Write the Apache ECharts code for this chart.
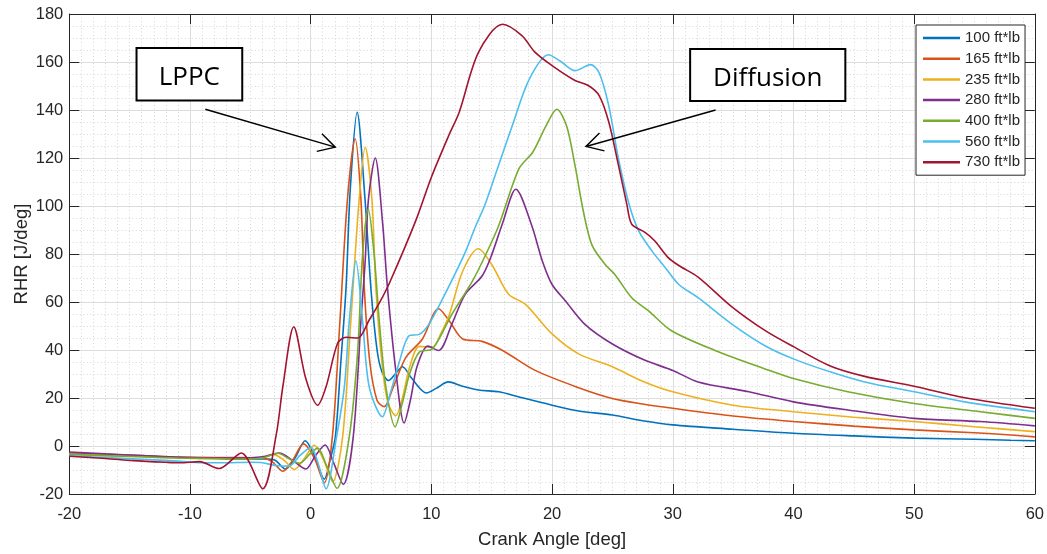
<!DOCTYPE html>
<html>
<head>
<meta charset="utf-8">
<script src="https://cdn.jsdelivr.net/npm/echarts@6/dist/echarts.min.js"></script>
<style>
  html, body { margin: 0; padding: 0; background: #ffffff; }
  #chart { width: 1047px; height: 554px; }
</style>
</head>
<body>
<div id="chart"></div>
<script>
// Rate of heat release (RHR) against crank angle for seven engine loads.

// Axis ticks
const angleTicks = [-20, -10, 0, 10, 20, 30, 40, 50, 60];
const rhrTicks = [-20, 0, 20, 40, 60, 80, 100, 120, 140, 160, 180];

// Load cases and their line colours
const loadLabels = ['100 ft*lb', '165 ft*lb', '235 ft*lb', '280 ft*lb', '400 ft*lb', '560 ft*lb', '730 ft*lb'];
const lineColors = ['#0072BD', '#D95319', '#EDB120', '#7E2F8E', '#77AC30', '#4DBEEE', '#A2142F'];

// [crank angle (deg), RHR (J/deg)]
const rhr100 = [
  [-20, -3], [-17, -3.6], [-14, -4.2], [-11, -4.8], [-8, -5], [-6, -5.2], [-4, -5.4], [-3, -5.8],
  [-2.1, -9.6], [-1.3, -5], [-0.45, 2.2], [0.3, -4], [1.13, -13.8], [1.6, -6], [2.05, 4], [2.5, 35],
  [2.93, 66], [3.28, 107], [3.85, 139], [4.5, 103], [5.0, 65], [5.5, 40], [5.9, 31], [6.45, 27.3],
  [7.0, 30], [7.6, 33], [8.4, 28], [9.6, 22.1], [10.4, 24], [11.4, 26.7], [12.5, 25], [13.9, 23.3],
  [15.6, 22.6], [17.2, 20.5], [20, 17], [22.2, 14.6], [25, 12.9], [27.5, 10.5], [30, 8.8], [35, 7],
  [40, 5.3], [45, 4.2], [50, 3.3], [55, 2.8], [58, 2.4], [60, 2.2]
];
const rhr165 = [
  [-20, -3], [-17, -3.5], [-14, -4], [-11, -4.6], [-8, -4.8], [-6, -4.8], [-4, -5], [-3.2, -6.5],
  [-2.3, -10.5], [-1.5, -6], [-0.6, 0.9], [0.3, -5], [1.13, -15.3], [1.8, 4], [2.4, 50], [3.05, 103],
  [3.69, 128], [4.16, 103], [4.44, 66], [4.9, 35], [5.5, 19], [6.1, 16.4], [6.8, 24], [7.9, 37],
  [9.26, 44.6], [10.6, 57.2], [11.5, 52], [12.6, 44.6], [14.2, 43.6], [15.9, 39.8], [18.6, 31.5],
  [22.2, 24.3], [25, 19.8], [27.5, 17.5], [30, 15.7], [35, 12.5], [40, 10.2], [45, 8.3], [50, 6.7],
  [55, 5.5], [58, 4.6], [60, 3.8]
];
const rhr235 = [
  [-20, -3.5], [-17, -4], [-14, -4.5], [-11, -5], [-8, -5.2], [-6, -5.4], [-4, -4.8], [-3.1, -3.5],
  [-2.2, -6], [-1.35, -9.8], [-0.5, -5], [0.3, 0.3], [1.0, -5], [1.82, -14.8], [2.65, 4], [3.3, 50],
  [4.02, 103], [4.52, 124.5], [5.07, 103], [5.4, 66], [5.9, 35], [6.4, 18], [7.05, 12.6], [7.6, 20],
  [8.2, 32.9], [9.0, 41.5], [10.1, 41.2], [10.8, 47], [11.5, 54.9], [12.6, 72.9], [13.9, 82.2],
  [15, 75.6], [16.4, 63.2], [17.8, 59], [20, 46.7], [22.2, 38.4], [25, 33], [27.5, 27], [30, 22.6],
  [35, 17], [40, 14.3], [45, 12], [50, 10.2], [55, 8], [60, 6]
];
const rhr280 = [
  [-20, -2.5], [-17, -3.3], [-14, -4], [-11, -4.7], [-8, -5], [-6, -5], [-4, -4.5], [-2.6, -2.9],
  [-1.5, -6], [-0.4, -9.6], [0.4, -4], [1.2, 0.4], [1.9, -7], [2.7, -16], [3.53, 4], [4.2, 55],
  [4.5, 75.6], [4.79, 103], [5.35, 120], [5.95, 93.5], [6.36, 66], [7.05, 31.5], [7.74, 9.6],
  [8.3, 20], [8.8, 32.9], [9.7, 41.6], [10.6, 39.8], [11.7, 50.8], [12.8, 63.2], [14.2, 70.8],
  [14.9, 78.3], [15.9, 92.8], [17, 107], [18.3, 92.1], [19.2, 77], [20, 67.3], [21.1, 60.5],
  [22.7, 50.8], [25, 42.5], [27.7, 35.7], [30, 31.5], [32.1, 26.7], [36.3, 22.6], [40, 18.4],
  [44.5, 15], [50, 11.5], [55.5, 10.2], [60, 8.4]
];
const rhr400 = [
  [-20, -3.5], [-17, -4], [-14, -4.5], [-11, -5], [-8, -5.3], [-6, -5.5], [-4, -5], [-2.7, -3],
  [-1.9, -5], [-0.93, -7.2], [0, -3], [0.58, -0.9], [1.3, -8], [2.18, -17.6], [3.2, 4], [3.88, 38.4],
  [4.3, 79.7], [4.77, 98.7], [5.26, 79.7], [5.68, 52.2], [6.23, 24.6], [7.0, 8], [7.6, 18],
  [8.2, 30.1], [9.0, 39.1], [10.1, 40.5], [11.7, 54.9], [13.4, 68.7], [14.5, 79.7], [15.6, 92.1],
  [17.25, 115.5], [18.4, 122.4], [19.5, 133.4], [20.4, 140.3], [21.2, 133.4], [21.9, 116.9],
  [22.6, 97.6], [23.3, 83.8], [24.4, 75.6], [25.2, 71.5], [26.6, 61.8], [28, 56.3], [29.9, 48],
  [33.5, 39.8], [37.6, 32.2], [40, 28.1], [44.5, 22.6], [50, 17.7], [55.5, 14.3], [60, 11.5]
];
const rhr560 = [
  [-20, -4], [-17, -4.8], [-14, -5.5], [-11, -6.3], [-9, -7], [-7, -7], [-5, -6.8], [-4, -7],
  [-2.9, -8.1], [-1.8, -8.4], [-0.9, -4], [0.03, -0.5], [0.6, -7], [1.27, -17.8], [2.15, 4],
  [2.79, 24.6], [3.2, 52.2], [3.75, 77.2], [4.3, 52.2], [4.85, 24.6], [5.94, 12.2], [6.6, 22],
  [7.3, 34.3], [8.16, 46], [9.0, 46.5], [9.8, 50.8], [11.0, 62], [12.7, 79.5], [13.7, 92],
  [14.4, 100], [15.3, 113], [16.7, 133.4], [18.1, 152.7], [19.7, 163], [20.7, 160.3], [21.9, 156.4],
  [23.2, 158.9], [23.9, 155.5], [24.7, 141.7], [25.5, 119.7], [26.4, 100.4], [27.2, 89.4],
  [28.3, 81.1], [29.4, 74.2], [30.5, 67.3], [32.1, 61.8], [34.9, 50.8], [37.6, 41.9], [40, 36.3],
  [43.1, 30.8], [45.9, 26.7], [50, 22.6], [54.2, 18.4], [60, 14.3]
];
const rhr730 = [
  [-20, -4.3], [-17, -5.2], [-14.7, -6.1], [-12, -6.8], [-10.85, -7], [-9.2, -6.5], [-7.6, -9.4],
  [-5.75, -2.9], [-3.97, -17.8], [-2.86, 4.5], [-2.3, 25], [-1.4, 49.7], [-0.4, 28], [0.58, 17],
  [1.27, 24.6], [2.23, 42.8], [2.93, 45.3], [3.9, 45], [4.85, 52.5], [5.68, 59.5], [6.5, 67.6],
  [8.7, 93.8], [10, 112], [11.46, 129.6], [12.3, 139], [13.9, 164], [15.9, 175.7], [17.5, 171],
  [18.6, 164], [20, 158.5], [21.9, 152.3], [23, 150.2], [23.9, 146], [24.7, 135], [25.5, 117],
  [26.2, 100.6], [26.6, 92.4], [27.7, 89], [28.5, 85.5], [29.6, 78.6], [30.5, 75.2], [32.1, 70.4],
  [34.9, 58], [37.6, 48.3], [40, 41.4], [43.1, 33.2], [45.9, 29], [50, 24.9], [54.2, 20.1], [60, 15.7]
];
const rhrSeries = [rhr100, rhr165, rhr235, rhr280, rhr400, rhr560, rhr730];

// Callout boxes with arrows, placed in data coordinates
const callouts = [
  { text: 'LPPC', box: [[-14.43, 165.8], [-5.67, 144.0]], tail: [-8.73, 140.3], tip: [2.04, 124.5] },
  { text: 'Diffusion', box: [[31.44, 165.4], [44.3, 143.8]], tail: [33.55, 140.0], tip: [22.81, 124.8] }
];

const axisColor = '#262626';
const fontFamily = 'Arial, "Liberation Sans", Helvetica, sans-serif';

const chart = echarts.init(document.getElementById('chart'), null, { renderer: 'canvas' });

function valueAxis(extra, ticks) {
  return Object.assign({
    type: 'value',
    min: ticks[0],
    max: ticks[ticks.length - 1],
    interval: ticks[1] - ticks[0],
    axisLine: { show: true, onZero: false, lineStyle: { color: axisColor, width: 1 } },
    axisTick: { show: true, inside: true, length: 10, lineStyle: { color: axisColor, width: 1 } },
    axisLabel: { show: false },
    splitLine: { show: false },
    minorSplitLine: { show: false }
  }, extra);
}

const xMain = valueAxis({
  position: 'bottom',
  name: 'Crank Angle [deg]',
  nameLocation: 'middle',
  nameGap: 36,
  nameMoveOverlap: false,
  nameTextStyle: { color: axisColor, fontSize: 18.5, fontFamily: fontFamily },
  axisLabel: { show: true, color: axisColor, fontSize: 16.5, fontFamily: fontFamily, margin: 12 },
  splitLine: { show: true, lineStyle: { color: '#dcdcdc', width: 1 } },
  minorTick: { show: false, splitNumber: 10 },
  minorSplitLine: { show: true, lineStyle: { color: '#d6d6d6', width: 1, type: [1, 2.5] } }
}, angleTicks);

const xTop = valueAxis({ position: 'top' }, angleTicks);

const yMain = valueAxis({
  position: 'left',
  name: 'RHR [J/deg]',
  nameLocation: 'middle',
  nameGap: 38,
  nameMoveOverlap: false,
  nameTextStyle: { color: axisColor, fontSize: 18.5, fontFamily: fontFamily },
  axisLabel: { show: true, color: axisColor, fontSize: 16.5, fontFamily: fontFamily, margin: 6 },
  splitLine: { show: true, lineStyle: { color: '#dcdcdc', width: 1 } },
  minorTick: { show: false, splitNumber: 4 },
  minorSplitLine: { show: true, lineStyle: { color: '#d6d6d6', width: 1, type: [1, 2.5] } }
}, rhrTicks);

const yRight = valueAxis({ position: 'right' }, rhrTicks);

chart.setOption({
  animation: false,
  backgroundColor: '#ffffff',
  grid: { left: 69.3, right: 9.7, top: 14, bottom: 56, containLabel: false },
  xAxis: [xMain, xTop],
  yAxis: [yMain, yRight],
  legend: {
    orient: 'vertical',
    left: 916,
    top: 25,
    padding: [5.5, 5, 5.5, 7],
    icon: 'rect',
    itemWidth: 37,
    itemHeight: 2.5,
    itemGap: 5.7,
    borderColor: axisColor,
    borderWidth: 1,
    backgroundColor: '#ffffff',
    textStyle: { color: axisColor, fontSize: 15, fontFamily: fontFamily },
    data: loadLabels
  },
  series: rhrSeries.map((pts, i) => ({
    name: loadLabels[i],
    type: 'line',
    xAxisIndex: 0,
    yAxisIndex: 0,
    data: pts,
    symbol: 'none',
    showSymbol: false,
    smooth: 0.3,
    color: lineColors[i],
    itemStyle: { color: lineColors[i] },
    lineStyle: { color: lineColors[i], width: 1.6 },
    emphasis: { disabled: true }
  }))
});

// Callout boxes and arrows
function toPx(p) {
  return chart.convertToPixel({ xAxisIndex: 0, yAxisIndex: 0 }, p);
}

function arrowHead(tail, tip, len, halfAngleDeg) {
  const dx = tail[0] - tip[0];
  const dy = tail[1] - tip[1];
  const d = Math.hypot(dx, dy);
  const ux = dx / d, uy = dy / d;
  const a = halfAngleDeg * Math.PI / 180;
  const rot = (s) => [
    tip[0] + len * (ux * Math.cos(s * a) - uy * Math.sin(s * a)),
    tip[1] + len * (ux * Math.sin(s * a) + uy * Math.cos(s * a))
  ];
  return [rot(1), tip, rot(-1)];
}

const graphics = [];
callouts.forEach((c) => {
  const p0 = toPx(c.box[0]);
  const p1 = toPx(c.box[1]);
  const tail = toPx(c.tail);
  const tip = toPx(c.tip);
  const x = Math.min(p0[0], p1[0]), y = Math.min(p0[1], p1[1]);
  const w = Math.abs(p1[0] - p0[0]), h = Math.abs(p1[1] - p0[1]);
  graphics.push({
    type: 'rect',
    shape: { x: x, y: y, width: w, height: h },
    style: { fill: '#ffffff', stroke: '#000000', lineWidth: 2 },
    z: 100
  });
  graphics.push({
    type: 'text',
    x: x + w / 2,
    y: y + h / 2 + 3.5,
    style: {
      text: c.text,
      fill: '#000000',
      font: '26px "Open Sans", "Noto Sans", sans-serif',
      align: 'center',
      verticalAlign: 'middle'
    },
    z: 101
  });
  graphics.push({
    type: 'line',
    shape: { x1: tail[0], y1: tail[1], x2: tip[0], y2: tip[1] },
    style: { stroke: '#000000', lineWidth: 1.4 },
    z: 100
  });
  graphics.push({
    type: 'polyline',
    shape: { points: arrowHead(tail, tip, 19, 29) },
    style: { stroke: '#000000', lineWidth: 1.4, fill: null },
    z: 100
  });
});
chart.setOption({ graphic: graphics });
</script>
</body>
</html>
